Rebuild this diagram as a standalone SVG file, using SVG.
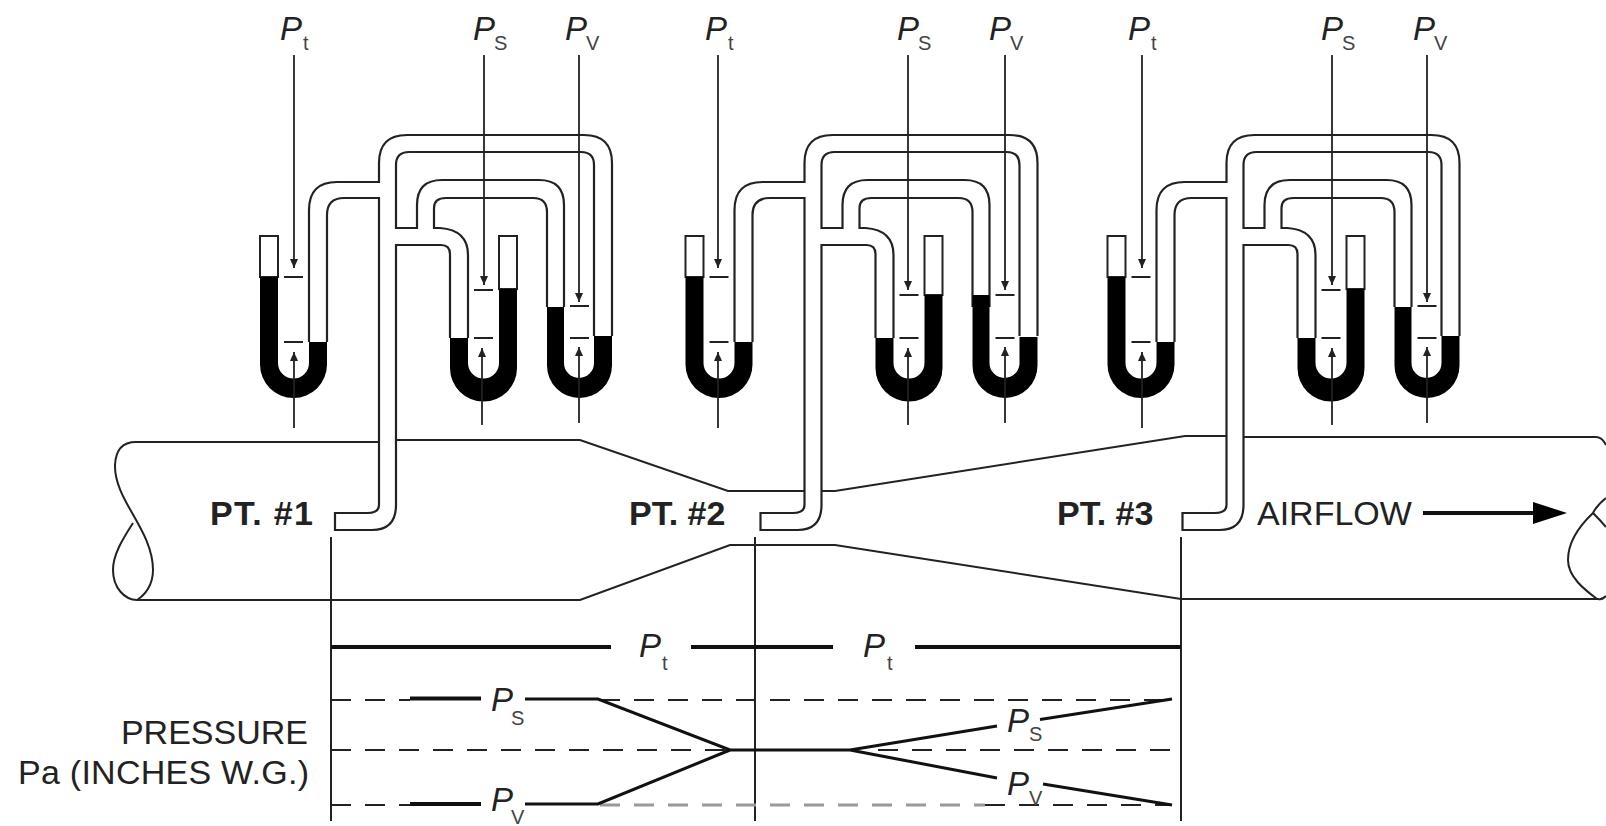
<svg xmlns="http://www.w3.org/2000/svg" xmlns:xlink="http://www.w3.org/1999/xlink" width="1606" height="826" viewBox="0 0 1606 826">
<style>
.l{fill:none;stroke:#222;stroke-width:2}
.t{fill:none;stroke:#222;stroke-width:2.2}
.f{fill:#000;stroke:none}
.o{fill:#fff;stroke:#222;stroke-width:2}
.m{stroke:#222;stroke-width:2}
.a{stroke:#222;stroke-width:1.8;fill:none;marker-end:url(#h)}
.th{stroke:#111;stroke-width:4;fill:none}
.gr{stroke:#111;stroke-width:3;fill:none}
.d{stroke:#222;stroke-width:2.2;fill:none;stroke-dasharray:20 14}
.dg{stroke:#999;stroke-width:3;fill:none;stroke-dasharray:20 14}
text{font-family:"Liberation Sans",Arial,sans-serif;fill:#222}
.p{font-size:33px;font-style:italic}
.s{font-size:20px;fill:#444}
.b{font-size:34px;font-weight:bold}
.n{font-size:34px}
</style>
<defs>
<marker id="h" markerUnits="userSpaceOnUse" markerWidth="10" markerHeight="12" refX="9" refY="4" orient="auto"><path d="M0 0L9 4L0 8Z" fill="#222"/></marker>
<g id="tubes" class="t">
<path d="M309 342V210Q309 182 337 182H379V163Q379 135 407 135H584Q612 135 612 163V336"/>
<path d="M327 342V215Q327 198 344 198H379V505Q379 513 367 513H335V530H372Q396 530 396 505V245H441Q450 245 450 254V338"/>
<path d="M594 336V165Q594 152 581 152H409Q396 152 396 165V228H417V205Q417 180 442 180H539Q564 180 564 205V307"/>
<path d="M547 307V212Q547 198 533 198H446Q434 198 434 208V228H440Q468 230 468 255V338"/>
</g>
</defs>
<rect width="1606" height="826" fill="#fff"/>
<g id="duct" class="l">
<path d="M379 442H136Q116 442 115 465C114 500 153 530 153 570C153 585 145 595 137 600"/>
<path d="M133 523C122 540 113 555 113 570C113 588 125 600 137 600H580L730 545H835L1181 599H1598Q1602 600 1606 596"/>
<path d="M396 440H580L728 491H804"/>
<path d="M822 491H835L1185 436H1226"/>
<path d="M1243 437H1596Q1602 437 1606 445"/>
<path d="M1606 498Q1597 505 1593 513C1575 530 1568 545 1568 560C1568 577 1585 590 1597 599"/>
<path d="M1593 513Q1600 520 1606 527"/>
</g>
<g id="tube-network-1"><use xlink:href="#tubes" href="#tubes"/></g>
<g id="tube-network-2"><use xlink:href="#tubes" href="#tubes" transform="translate(425.5 0)"/></g>
<g id="tube-network-3"><use xlink:href="#tubes" href="#tubes" transform="translate(847.5 0)"/></g>

<g id="set-1">
<rect class="o" x="260" y="236" width="18" height="41"/>
<path class="f" d="M260 277H278V363A15.5 15.5 0 0 0 309 363V342H327V364.5A33.5 33.5 0 0 1 260 364.5Z"/>
<rect class="o" x="499" y="236" width="18" height="53"/>
<path class="f" d="M450 338H468V363A15.5 15.5 0 0 0 499 363V289H517V368A33.5 33.5 0 0 1 450 368Z"/>
<path class="f" d="M547 307H564V363A15 15 0 0 0 594 363V336H612V365.5A32.5 32.5 0 0 1 547 365.5Z"/>
<path class="m" d="M284 277H303M284 342H303M474 290H493M474 338H493M570 306H589M570 338H589"/>
</g>
<g id="set-2" transform="translate(425.5 0)">
<rect class="o" x="260" y="236" width="18" height="41"/>
<path class="f" d="M260 277H278V363A15.5 15.5 0 0 0 309 363V342H327V364.5A33.5 33.5 0 0 1 260 364.5Z"/>
<rect class="o" x="499" y="236" width="18" height="59"/>
<path class="f" d="M450 338H468V363A15.5 15.5 0 0 0 499 363V295H517V368A33.5 33.5 0 0 1 450 368Z"/>
<path class="f" d="M547 295H564V363A15 15 0 0 0 594 363V337H612V365.5A32.5 32.5 0 0 1 547 365.5Z"/>
<path class="m" d="M284 277H303M284 342H303M474 295H493M474 338H493M570 295H589M570 338H589"/>
</g>
<g id="set-3" transform="translate(847.5 0)">
<rect class="o" x="260" y="236" width="18" height="41"/>
<path class="f" d="M260 277H278V363A15.5 15.5 0 0 0 309 363V342H327V364.5A33.5 33.5 0 0 1 260 364.5Z"/>
<rect class="o" x="499" y="236" width="18" height="53"/>
<path class="f" d="M450 338H468V363A15.5 15.5 0 0 0 499 363V289H517V368A33.5 33.5 0 0 1 450 368Z"/>
<path class="f" d="M547 307H564V363A15 15 0 0 0 594 363V336H612V365.5A32.5 32.5 0 0 1 547 365.5Z"/>
<path class="m" d="M284 277H303M284 342H303M474 290H493M474 338H493M570 306H589M570 338H589"/>
</g>

<g id="connectors">
<path class="a" d="M294 55V268"/><path class="a" d="M484 55V285"/><path class="a" d="M579 55V302"/>
<path class="a" d="M294 428V352"/><path class="a" d="M482 425V348"/><path class="a" d="M579 423V347"/>
<path class="a" d="M718 55V268"/><path class="a" d="M908 55V290"/><path class="a" d="M1005 55V290"/>
<path class="a" d="M718 428V352"/><path class="a" d="M908 425V348"/><path class="a" d="M1005 423V347"/>
<path class="a" d="M1142 55V268"/><path class="a" d="M1332 55V285"/><path class="a" d="M1427 55V302"/>
<path class="a" d="M1142 428V352"/><path class="a" d="M1332 425V348"/><path class="a" d="M1427 423V347"/>
<path class="l" d="M331 537V821M755 537V821M1181 537V821"/>
<path class="th" d="M331 647H611M691 647H833M915 647H1181"/>
<path class="d" d="M331 700H410M600 700H1172M331 750H730M878 750H1176M331 805H410M985 805H1172"/>
<path class="dg" d="M600 805H985"/>
<path class="gr" d="M525 699H598L730 750H850L997 726M1040 719.5L1172 699M850 750L997 778M1043 784L1172 805M525 804H598L730 750"/>
<path class="th" d="M410 698.500H481M410 804H481"/>
<path stroke="#111" stroke-width="4" fill="none" d="M1423 513H1536"/>
<path fill="#000" d="M1533 502L1567 513L1533 524Z"/>
</g>

<g id="labels">
<text class="p" x="280" y="40">P</text><text class="s" x="303" y="50">t</text>
<text class="p" x="473" y="40">P</text><text class="s" x="494" y="50">S</text>
<text class="p" x="565" y="40">P</text><text class="s" x="586" y="50">V</text>
<text class="p" x="705" y="40">P</text><text class="s" x="728" y="50">t</text>
<text class="p" x="897" y="40">P</text><text class="s" x="918" y="50">S</text>
<text class="p" x="989" y="40">P</text><text class="s" x="1010" y="50">V</text>
<text class="p" x="1128" y="40">P</text><text class="s" x="1151" y="50">t</text>
<text class="p" x="1321" y="40">P</text><text class="s" x="1342" y="50">S</text>
<text class="p" x="1413" y="40">P</text><text class="s" x="1434" y="50">V</text>
<text class="b" x="210" y="525" textLength="103">PT. #1</text>
<text class="b" x="629" y="525">PT. #2</text>
<text class="b" x="1057" y="525">PT. #3</text>
<text class="n" x="1257" y="525">AIRFLOW</text>
<text class="p" x="639" y="657">P</text><text class="s" x="662" y="670">t</text>
<text class="p" x="863" y="657">P</text><text class="s" x="887" y="670">t</text>
<text class="p" x="491" y="711">P</text><text class="s" x="511" y="725">S</text>
<text class="p" x="491" y="811">P</text><text class="s" x="511" y="824">V</text>
<text class="p" x="1007" y="732">P</text><text class="s" x="1029" y="741">S</text>
<text class="p" x="1007" y="795">P</text><text class="s" x="1029" y="805">V</text>
<text class="n" x="308" y="744" text-anchor="end">PRESSURE</text>
<text class="n" x="309" y="784" text-anchor="end" textLength="291">Pa (INCHES W.G.)</text>
</g>
</svg>
